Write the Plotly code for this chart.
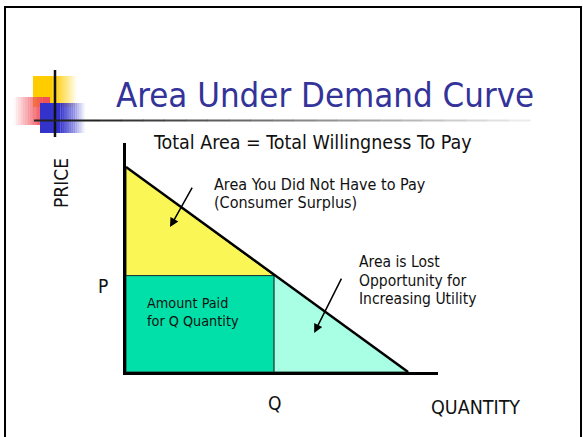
import plotly.graph_objects as go

# ---- data ----
max_price = 10.0      # demand curve price intercept
max_quantity = 10.0   # demand curve quantity intercept
price_p = 4.7         # market price P
quantity_q = 5.25     # quantity Q bought at P
axis_x_max = 11.06
axis_y_max = 11.17

W, H = 583, 437
FONT = "DejaVu Sans Condensed, DejaVu Sans, sans-serif"
TXT = "#111111"


def px(x):
    return x / W


def py(y):
    return 1 - y / H


fig = go.Figure()

# yellow: consumer surplus
fig.add_trace(go.Scatter(
    x=[0, 0, quantity_q, 0], y=[price_p, max_price, price_p, price_p],
    fill="toself", fillcolor="#F9F655", mode="lines",
    line=dict(color="#222222", width=1), hoverinfo="skip", showlegend=False))
# green: amount paid
fig.add_trace(go.Scatter(
    x=[0, 0, quantity_q, quantity_q, 0], y=[0, price_p, price_p, 0, 0],
    fill="toself", fillcolor="#00E0A8", mode="lines",
    line=dict(color="#1a3a30", width=1), hoverinfo="skip", showlegend=False))
# aqua: lost opportunity
fig.add_trace(go.Scatter(
    x=[quantity_q, quantity_q, max_quantity, quantity_q],
    y=[0, max_price * (1 - quantity_q / max_quantity), 0, 0],
    fill="toself", fillcolor="#A8FFE4", mode="lines",
    line=dict(color="#1a3a30", width=1), hoverinfo="skip", showlegend=False))
# demand curve
fig.add_trace(go.Scatter(
    x=[0, max_quantity], y=[max_price, 0], mode="lines",
    line=dict(color="black", width=2.5), hoverinfo="skip", showlegend=False))

shapes = []
# slide frame
shapes.append(dict(type="line", xref="paper", yref="paper", x0=px(5), x1=px(5),
                   y0=py(6), y1=py(440), line=dict(color="black", width=2)))
shapes.append(dict(type="line", xref="paper", yref="paper", x0=px(4), x1=px(582),
                   y0=py(7), y1=py(7), line=dict(color="black", width=2)))
shapes.append(dict(type="line", xref="paper", yref="paper", x0=px(581), x1=px(581),
                   y0=py(6), y1=py(440), line=dict(color="black", width=2)))


def grad_rect(x0, x1, y0, y1, rgb, solid_frac, reverse=False, n=12):
    out = []
    sx = x0 + (x1 - x0) * solid_frac if not reverse else x1 - (x1 - x0) * solid_frac
    if not reverse:
        out.append(dict(type="rect", xref="paper", yref="paper", x0=px(x0), x1=px(sx),
                        y0=py(y1), y1=py(y0), fillcolor="rgb(%d,%d,%d)" % rgb, line_width=0))
        step = (x1 - sx) / n
        for i in range(n):
            a = 1 - (i + 0.5) / n
            out.append(dict(type="rect", xref="paper", yref="paper",
                            x0=px(sx + i * step), x1=px(sx + (i + 1) * step + 0.3),
                            y0=py(y1), y1=py(y0),
                            fillcolor="rgba(%d,%d,%d,%.3f)" % (rgb + (a,)), line_width=0))
    else:
        out.append(dict(type="rect", xref="paper", yref="paper", x0=px(sx), x1=px(x1),
                        y0=py(y1), y1=py(y0), fillcolor="rgb(%d,%d,%d)" % rgb, line_width=0))
        step = (sx - x0) / n
        for i in range(n):
            a = 1 - (i + 0.5) / n
            out.append(dict(type="rect", xref="paper", yref="paper",
                            x0=px(sx - (i + 1) * step - 0.3), x1=px(sx - i * step),
                            y0=py(y1), y1=py(y0),
                            fillcolor="rgba(%d,%d,%d,%.3f)" % (rgb + (a,)), line_width=0))
    return out


# logo squares
shapes += grad_rect(33, 77, 76, 107, (255, 204, 0), 0.45)
shapes += grad_rect(14, 50, 97, 125, (240, 80, 90), 0.2, reverse=True)
shapes += grad_rect(40, 85, 103, 133, (51, 51, 204), 0.45)
# logo vertical line
shapes.append(dict(type="line", xref="paper", yref="paper", x0=px(55), x1=px(55),
                   y0=py(70), y1=py(137), line=dict(color="#111111", width=2.5)))
# title underline gradient
shapes.append(dict(type="line", xref="paper", yref="paper", x0=px(34), x1=px(100),
                   y0=py(120.5), y1=py(120.5), line=dict(color="#222222", width=2)))
nseg = 20
for i in range(nseg):
    xa = 100 + i * (430 / nseg)
    xb = xa + 430 / nseg + 0.5
    g = int(40 + 200 * (i + 0.5) / nseg)
    shapes.append(dict(type="line", xref="paper", yref="paper", x0=px(xa), x1=px(xb),
                       y0=py(120.5), y1=py(120.5), line=dict(color="rgb(%d,%d,%d)" % (g, g, g), width=2)))

ann = []


def label(text, x, y, size, anchor="left", color=TXT, angle=0):
    ann.append(dict(text=text, xref="paper", yref="paper", x=px(x), y=py(y),
                    xanchor=anchor, yanchor="middle", showarrow=False, textangle=angle,
                    font=dict(family=FONT, size=size, color=color)))


label("Area Under Demand Curve", 114, 95, 34.5, color="#333399")
label("Total Area = Total Willingness To Pay", 151, 142, 19.5)
label("PRICE", 61, 183, 19, anchor="center", angle=-90)
ann.append(dict(text="P", xref="paper", yref="y", x=px(103), y=price_p, yshift=-10,
                xanchor="center", yanchor="middle", showarrow=False,
                font=dict(family=FONT, size=19, color=TXT)))
ann.append(dict(text="Q", xref="x", yref="paper", x=quantity_q, y=py(403),
                xanchor="center", yanchor="middle", showarrow=False,
                font=dict(family=FONT, size=19, color=TXT)))
label("QUANTITY", 429, 407, 19.5)
label("Area You Did Not Have to Pay", 212, 184, 16)
label("(Consumer Surplus)", 212, 203, 16)
label("Area is Lost", 357, 262, 15.5)
label("Opportunity for", 357, 281, 15.5)
label("Increasing Utility", 357, 299, 15.5)
label("Amount Paid", 145, 303, 14.3)
label("for Q Quantity", 145, 321, 14.3)

# arrows
ann.append(dict(text="", x=1.56, y=7.07, xref="x", yref="y", ax=23, ay=-41,
                showarrow=True, arrowhead=2, arrowsize=1.2, arrowwidth=1.5, arrowcolor="black"))
ann.append(dict(text="", x=6.67, y=1.9, xref="x", yref="y", ax=28, ay=-56,
                showarrow=True, arrowhead=2, arrowsize=1.2, arrowwidth=1.5, arrowcolor="black"))

fig.update_layout(
    width=W, height=H, margin=dict(l=0, r=0, t=0, b=0),
    paper_bgcolor="white", plot_bgcolor="white",
    shapes=shapes, annotations=ann, showlegend=False,
    xaxis=dict(domain=[px(126), px(438)], range=[0, axis_x_max], showgrid=False,
               zeroline=False, showticklabels=False, ticks="", showline=True,
               linecolor="black", linewidth=3, fixedrange=True),
    yaxis=dict(domain=[py(372), py(143)], range=[0, axis_y_max], showgrid=False,
               zeroline=False, showticklabels=False, ticks="", showline=True,
               linecolor="black", linewidth=3, fixedrange=True),
)

fig.write_html("out.html", config={"displayModeBar": False},
               post_script="document.body.style.margin='0px';document.body.style.overflow='hidden';")
